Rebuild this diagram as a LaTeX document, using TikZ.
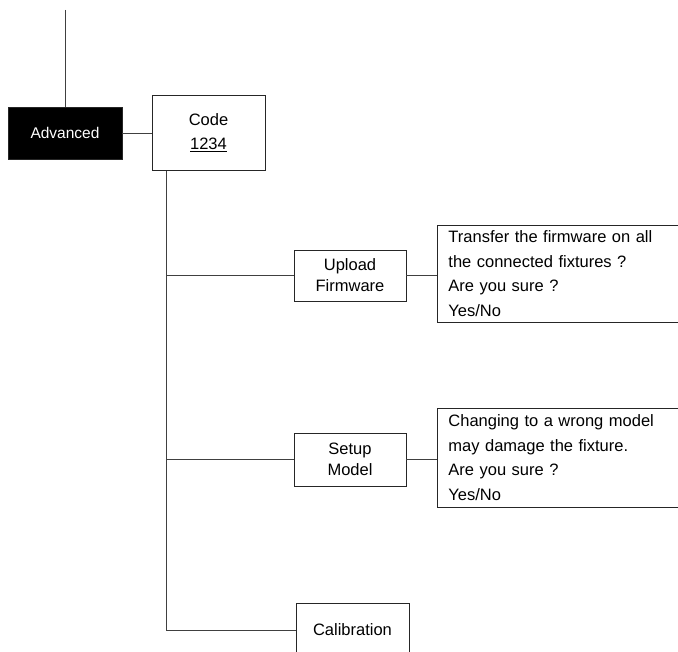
\documentclass[tikz,border=0pt]{standalone}
\usepackage{fontspec}
\setmainfont{Liberation Sans}
\usepackage{tikz}
\usetikzlibrary{positioning}

\begin{document}
\begin{tikzpicture}[
        x=1pt, y=-1pt,
        menubox/.style={rectangle, draw=black!85, line width=0.9pt, align=center, font=\fontsize{16.5}{21}\selectfont, fill=white, inner sep=0pt},
        activebox/.style={menubox, fill=black, text=white, font=\fontsize{15.5}{19}\selectfont},
        msgbox/.style={rectangle, draw=black!85, line width=0.9pt, align=left, font=\fontsize{16.5}{24.5}\selectfont, text width=250pt, inner xsep=11pt, inner ysep=0pt, anchor=west},
        link/.style={draw=black!75, line width=0.8pt}
    ]
        \useasboundingbox (0,0) rectangle (678,652);
        \clip (0,0) rectangle (678,652);

        \node[activebox, minimum width=114pt, minimum height=52pt] (advanced) at (65,133) {Advanced};
        \node[menubox, minimum width=113pt, minimum height=75pt] (code) at (208.5,133) {Code\\[3pt]\underline{1234}};
        \node[menubox, minimum width=112pt, minimum height=51pt] (upload) at (350,275.5) {Upload\\Firmware};
        \node[menubox, minimum width=112pt, minimum height=53pt] (setup) at (350,459.5) {Setup\\Model};
        \node[menubox, minimum width=113pt, minimum height=54pt] (calib) at (352.5,630) {Calibration};

        \node[msgbox, minimum height=97pt] (transfer) at (437,273.5) {Transfer the firmware on all\\the connected fixtures ?\\Are you sure ?\\Yes/No};
        \node[msgbox, minimum height=99pt] (wrongmodel) at (437,457.5) {Changing to a wrong model\\may damage the fixture.\\Are you sure ?\\Yes/No};

        \coordinate (top) at (65,10);
        \coordinate (trunk) at (166,628);

        \draw[link] (top) -- (advanced.north);
        \draw[link] (advanced.east) -- (code.west);
        \draw[link] (code.south -| trunk) |- (calib.west);
        \draw[link] (trunk |- upload.west) -- (upload.west);
        \draw[link] (trunk |- setup.west) -- (setup.west);
        \draw[link] (upload.east) -- (upload.east -| transfer.west);
        \draw[link] (setup.east) -- (setup.east -| wrongmodel.west);
    \end{tikzpicture}
\end{document}
